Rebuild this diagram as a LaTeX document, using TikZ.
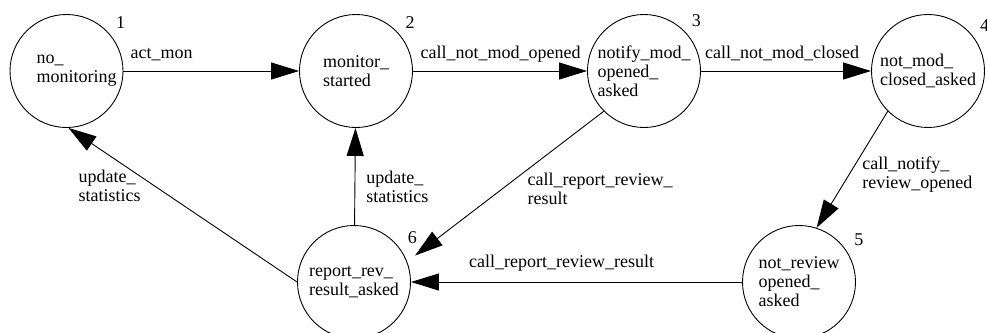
\documentclass[tikz,border=0pt]{standalone}
\usepackage{fontspec}
\setmainfont{Liberation Serif}
\usetikzlibrary{arrows.meta}

\tikzset{
  state/.style={draw, circle, minimum size=113bp, inner sep=0pt, align=left, line width=0.9bp},
  num/.style={anchor=center, label distance=16bp},
  trans/.style={-{Triangle[length=28bp,width=17bp]}, line width=0.9bp},
  lbl/.style={anchor=base, yshift=13bp, inner sep=0pt},
  ml/.style={align=left, inner sep=0pt}
}

\begin{document}
\begin{tikzpicture}[x=1bp, y=1bp, font=\fontsize{18bp}{19bp}\selectfont]
        \useasboundingbox (0,0) rectangle (987,332);

        % states, top row
        \node[state, label={[num]42:1}] (n1) at (66.5,261) {\hspace*{20bp}no\_\\\hspace*{20bp}monitoring};
        \node[state, label={[num]42:2}] (n2) at (356,261) {monitor\_\\started};
        \node[state, label={[num]44:3}] (n3) at (644,261) {notify\_mod\_\\opened\_\\asked};
        \node[state, label={[num]39:4}] (n4) at (928,261) {not\_mod\_\\closed\_asked};
        % states, bottom row
        \node[state, label={[num]37:6}] (n6) at (354,50) {report\_rev\_\\result\_asked};
        \node[state, label={[num]35:5}] (n5) at (799,50) {not\_review\\opened\_\\asked};

        % transitions
        \draw[trans] (n1) -- node[lbl, pos=0.218] {act\_mon} (n2);
        \draw[trans] (n2) -- node[lbl, pos=0.503] {call\_not\_mod\_opened} (n3);
        \draw[trans] (n3) -- node[lbl, pos=0.477] {call\_not\_mod\_closed} (n4);
        \draw[trans] (n4.225) -- node[ml, pos=0.544, right=13bp] {call\_notify\_\\review\_opened} (n5.72);
        \draw[trans, shorten >=10bp] (n3.225) -- node[ml, pos=0.517, right=25bp] {call\_report\_review\_\\result} (n6.21);
        \draw[trans] (n5) -- node[lbl, pos=0.545, yshift=2bp] {call\_report\_review\_result} (n6);
        \draw[trans] (n6) -- node[ml, pos=0.389, right=11bp] {update\_\\statistics} (n2);
        \draw[trans] (n6.west) -- node[ml, pos=0.82, yshift=-30bp] {update\_\\statistics} (n1.272);
\end{tikzpicture}
\end{document}
